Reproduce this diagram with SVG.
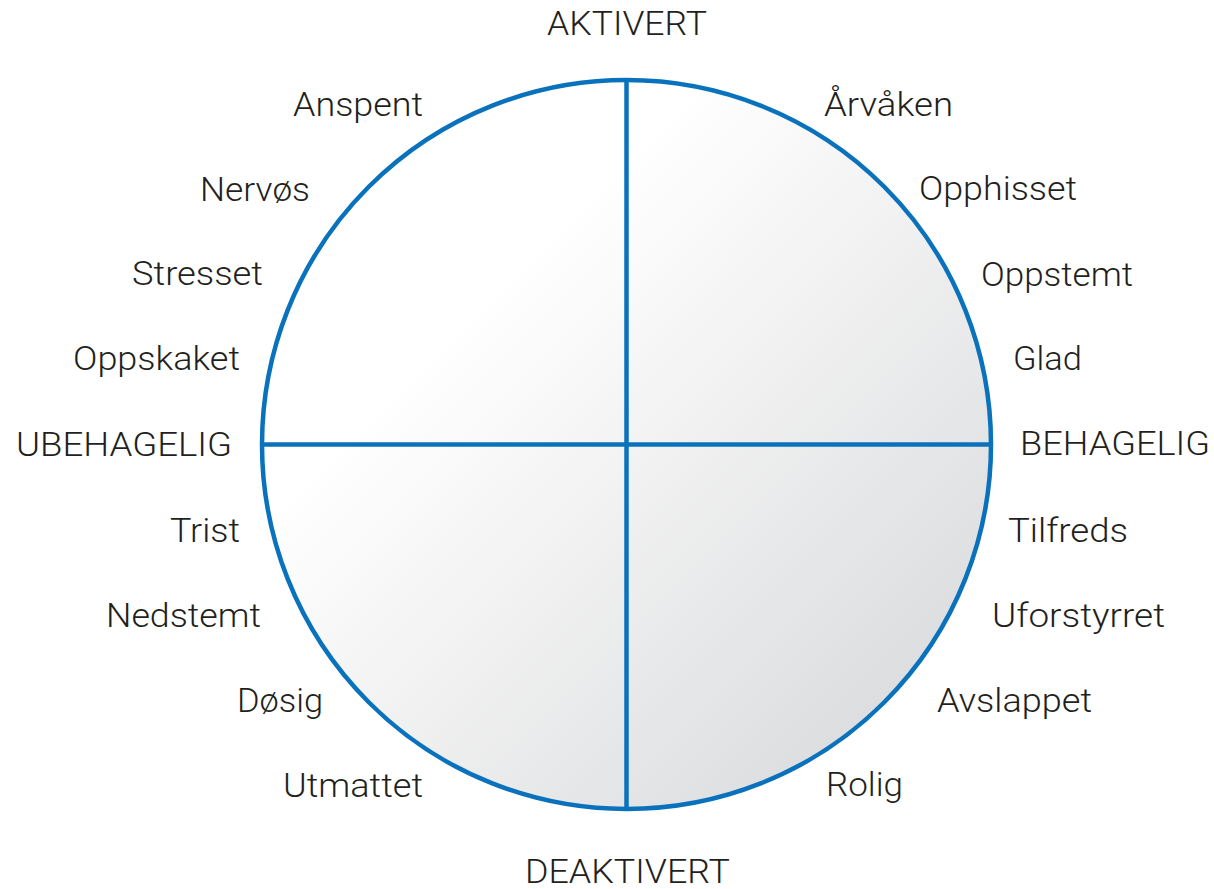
<svg xmlns="http://www.w3.org/2000/svg" width="1214" height="889" viewBox="0 0 1214 889">
  <style>
    .lbl { font-family: Roboto, "Liberation Sans", sans-serif; font-size: 33px; font-weight: 300; fill: #231f20; }
    .axis { stroke: #0a72bc; stroke-width: 4.5; fill: none; }
    .rim { stroke: #0a72bc; stroke-width: 4.5; fill: url(#discFill); }
  </style>
  <defs>
    <linearGradient id="discFill" x1="0" y1="0" x2="1" y2="1">
      <stop offset="0.3" stop-color="#ffffff"/>
      <stop offset="1" stop-color="#d4d5d7"/>
    </linearGradient>
  </defs>
  <rect width="1214" height="889" fill="#ffffff"/>

  <!-- shaded disc -->
  <g id="disc">
    <circle cx="626.5" cy="444.5" r="364.5" class="rim"/>
  </g>
  <!-- cross axes -->
  <g id="axes">
    <line x1="626.5" y1="80" x2="626.5" y2="809" class="axis"/>
    <line x1="262" y1="444.5" x2="991" y2="444.5" class="axis"/>
  </g>

  <!-- axis poles -->
  <g id="pole-top"><text class="lbl" x="547" y="35" textLength="160" lengthAdjust="spacingAndGlyphs">AKTIVERT</text></g>
  <g id="pole-bottom"><text class="lbl" x="525" y="883" textLength="205" lengthAdjust="spacingAndGlyphs">DEAKTIVERT</text></g>
  <g id="pole-left"><text class="lbl" x="16" y="456" textLength="216" lengthAdjust="spacingAndGlyphs">UBEHAGELIG</text></g>
  <g id="pole-right"><text class="lbl" x="1020" y="455" textLength="190" lengthAdjust="spacingAndGlyphs">BEHAGELIG</text></g>

  <!-- left side words -->
  <g id="w-anspent"><text class="lbl" x="293" y="116" textLength="130" lengthAdjust="spacingAndGlyphs">Anspent</text></g>
  <g id="w-nervos"><text class="lbl" x="200" y="201" textLength="110" lengthAdjust="spacingAndGlyphs">Nervøs</text></g>
  <g id="w-stresset"><text class="lbl" x="132" y="285" textLength="131" lengthAdjust="spacingAndGlyphs">Stresset</text></g>
  <g id="w-oppskaket"><text class="lbl" x="73" y="370" textLength="167" lengthAdjust="spacingAndGlyphs">Oppskaket</text></g>
  <g id="w-trist"><text class="lbl" x="170" y="542" textLength="70" lengthAdjust="spacingAndGlyphs">Trist</text></g>
  <g id="w-nedstemt"><text class="lbl" x="106" y="627" textLength="155" lengthAdjust="spacingAndGlyphs">Nedstemt</text></g>
  <g id="w-dosig"><text class="lbl" x="237" y="712" textLength="86" lengthAdjust="spacingAndGlyphs">Døsig</text></g>
  <g id="w-utmattet"><text class="lbl" x="283" y="797" textLength="140" lengthAdjust="spacingAndGlyphs">Utmattet</text></g>

  <!-- right side words -->
  <g id="w-arvaken"><text class="lbl" x="824" y="116" textLength="129" lengthAdjust="spacingAndGlyphs">Årvåken</text></g>
  <g id="w-opphisset"><text class="lbl" x="919" y="200" textLength="158" lengthAdjust="spacingAndGlyphs">Opphisset</text></g>
  <g id="w-oppstemt"><text class="lbl" x="981" y="286" textLength="152" lengthAdjust="spacingAndGlyphs">Oppstemt</text></g>
  <g id="w-glad"><text class="lbl" x="1013" y="370" textLength="69" lengthAdjust="spacingAndGlyphs">Glad</text></g>
  <g id="w-tilfreds"><text class="lbl" x="1008" y="542" textLength="120" lengthAdjust="spacingAndGlyphs">Tilfreds</text></g>
  <g id="w-uforstyrret"><text class="lbl" x="992" y="627" textLength="173" lengthAdjust="spacingAndGlyphs">Uforstyrret</text></g>
  <g id="w-avslappet"><text class="lbl" x="937" y="712" textLength="155" lengthAdjust="spacingAndGlyphs">Avslappet</text></g>
  <g id="w-rolig"><text class="lbl" x="826" y="796" textLength="77" lengthAdjust="spacingAndGlyphs">Rolig</text></g>
</svg>
